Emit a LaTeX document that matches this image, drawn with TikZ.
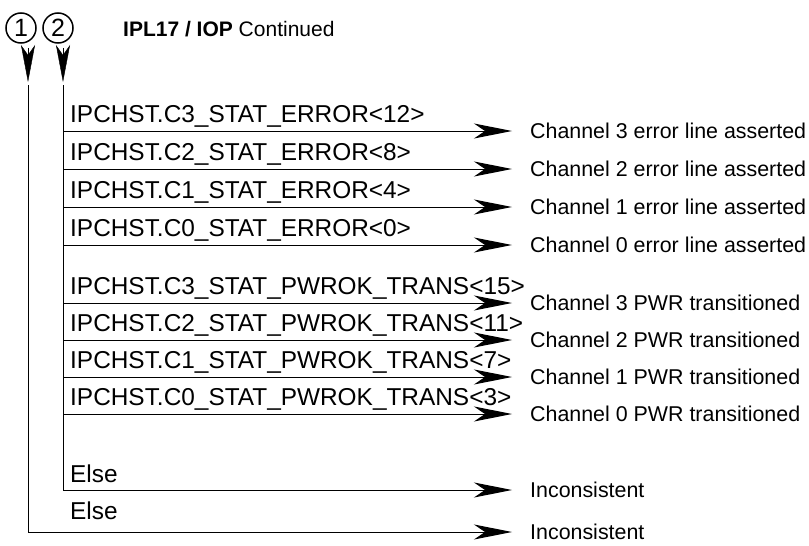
\documentclass[tikz,border=0pt]{standalone}
\usepackage{fontspec}
\setmainfont{Liberation Sans}
\usetikzlibrary{arrows.meta, positioning}

\begin{document}
\begin{tikzpicture}[x=1pt, y=-1pt,
        marker/.style={circle, draw, line width=1.5pt, minimum size=30pt, inner sep=0pt, font=\fontsize{25}{25}\selectfont},
        heading/.style={anchor=base west, inner sep=0pt, font=\fontsize{21}{25}\selectfont},
        cond/.style={anchor=base west, inner sep=0pt, font=\fontsize{24.4}{28}\selectfont},
        result/.style={anchor=west, inner xsep=18pt, inner ysep=0pt, font=\fontsize{21.4}{25}\selectfont},
        entry/.style={-{Stealth[length=37pt, width=14pt, inset=10pt]}, shorten <=4pt},
        msg/.style={line width=1pt, -{Stealth[length=38pt, width=15pt, inset=11pt]}}
    ]
        \useasboundingbox (0,0) rectangle (809,546);

        % Headers
        \node[marker] (m1) at (21,28) {1};
        \node[marker] (m2) at (58,28) {2};
        \node[heading] (hd) at (123,36) {\textbf{IPL17 / IOP} Continued};

        % Entry arrows
        \coordinate (t1) at (28,82);
        \coordinate (t2) at (63,82);
        \coordinate (s1) at (28,85);
        \coordinate (s2) at (63,85);
        \draw[entry] (t1 |- m1.south) -- (t1);
        \draw[entry] (t2 |- m2.south) -- (t2);

        % Results
        \node[result] (e3) at (512,131) {Channel 3 error line asserted};
        \node[result] (e2) at (512,169) {Channel 2 error line asserted};
        \node[result] (e1) at (512,207) {Channel 1 error line asserted};
        \node[result] (e0) at (512,245) {Channel 0 error line asserted};
        \node[result] (p3) at (512,303) {Channel 3 PWR transitioned};
        \node[result] (p2) at (512,340) {Channel 2 PWR transitioned};
        \node[result] (p1) at (512,377) {Channel 1 PWR transitioned};
        \node[result] (p0) at (512,414) {Channel 0 PWR transitioned};
        \node[result] (inc2) at (512,490) {Inconsistent};
        \node[result] (inc1) at (512,532) {Inconsistent};

        % Conditions
        \node[cond] (ce3) at (70,122) {IPCHST.C3\_STAT\_ERROR<12>};
        \node[cond] (ce2) at (70,160) {IPCHST.C2\_STAT\_ERROR<8>};
        \node[cond] (ce1) at (70,198) {IPCHST.C1\_STAT\_ERROR<4>};
        \node[cond] (ce0) at (70,236) {IPCHST.C0\_STAT\_ERROR<0>};
        \node[cond] (cp3) at (70,294) {IPCHST.C3\_STAT\_PWROK\_TRANS<15>};
        \node[cond] (cp2) at (70,331) {IPCHST.C2\_STAT\_PWROK\_TRANS<11>};
        \node[cond] (cp1) at (70,368) {IPCHST.C1\_STAT\_PWROK\_TRANS<7>};
        \node[cond] (cp0) at (70,405) {IPCHST.C0\_STAT\_PWROK\_TRANS<3>};
        \node[cond] (el2) at (70,482) {Else};
        \node[cond] (el1) at (70,519) {Else};

        % Branch lines
        \draw[msg] (s1) -- (s1 |- inc1.west) -- (inc1.west);
        \draw[msg] (s2) -- (s2 |- inc2.west) -- (inc2.west);

        % Messages
        \draw[msg] (s2 |- e3.west) -- (e3.west);
        \draw[msg] (s2 |- e2.west) -- (e2.west);
        \draw[msg] (s2 |- e1.west) -- (e1.west);
        \draw[msg] (s2 |- e0.west) -- (e0.west);
        \draw[msg] (s2 |- p3.west) -- (p3.west);
        \draw[msg] (s2 |- p2.west) -- (p2.west);
        \draw[msg] (s2 |- p1.west) -- (p1.west);
        \draw[msg] (s2 |- p0.west) -- (p0.west);
    \end{tikzpicture}
\end{document}
